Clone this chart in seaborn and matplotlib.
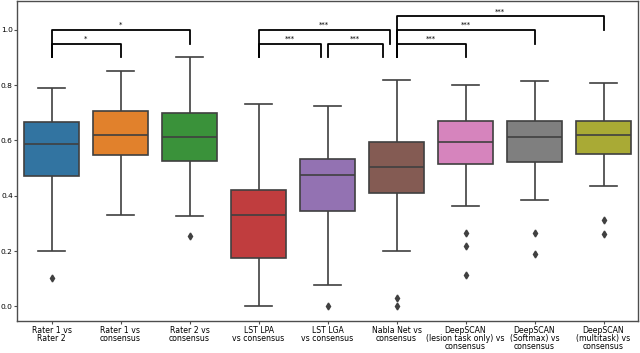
import numpy as np
import pandas as pd
import matplotlib
matplotlib.use('Agg')
import matplotlib.pyplot as plt
import seaborn as sns

# Box summaries (Dice-like overlap scores)
labels = [
    'Rater 1 vs\nRater 2',
    'Rater 1 vs\nconsensus',
    'Rater 2 vs\nconsensus',
    'LST LPA\nvs consensus',
    'LST LGA\nvs consensus',
    'Nabla Net vs\nconsensus',
    'DeepSCAN\n(lesion task only) vs\nconsensus',
    'DeepSCAN\n(Softmax) vs\nconsensus',
    'DeepSCAN\n(multitask) vs\nconsensus',
]
whisk_lo = [0.201, 0.329, 0.325, 0.000, 0.077, 0.199, 0.361, 0.383, 0.434]
q1 = [0.471, 0.547, 0.526, 0.176, 0.343, 0.409, 0.516, 0.521, 0.550]
median = [0.587, 0.619, 0.611, 0.331, 0.476, 0.505, 0.594, 0.612, 0.619]
q3 = [0.665, 0.707, 0.699, 0.419, 0.532, 0.594, 0.671, 0.671, 0.671]
whisk_hi = [0.790, 0.852, 0.901, 0.730, 0.724, 0.820, 0.801, 0.813, 0.809]
outliers = [
    [0.104],
    [],
    [0.256],
    [],
    [0.001],
    [0.030, 0.000],
    [0.266, 0.219, 0.113],
    [0.264, 0.189],
    [0.312, 0.261],
]

# significance brackets: (left, right, bar height, left leg end, right leg end, label)
br_left = [0, 0, 3, 3, 4, 5, 5, 5]
br_right = [1, 2, 3.9, 4.9, 4.8, 6, 7, 8]
br_y = [0.95, 1.0, 0.95, 1.0, 0.95, 0.95, 1.0, 1.05]
br_leg_l = [0.9, 0.9, 0.9, 0.9, 0.9, 0.9, 0.9, 0.9]
br_leg_r = [0.9, 0.95, 0.9, 0.95, 0.9, 0.9, 0.95, 1.0]
br_text = ['*', '*', '***', '***', '***', '***', '***', '***']

# build samples whose quartiles/whiskers reproduce the summaries
rows = []
for k, lab in enumerate(labels):
    vals = list(outliers[k]) + [whisk_lo[k]] + [q1[k]] * 10 + [median[k]] * 10 \
        + [q3[k]] * 10 + [whisk_hi[k]]
    for v in vals:
        rows.append({'comparison': lab, 'score': v})
df = pd.DataFrame(rows)

fig = plt.figure(figsize=(6.4, 3.53), dpi=100)
ax = fig.add_axes([17 / 640, 32 / 353, 621 / 640, 320 / 353])

sns.boxplot(data=df, x='comparison', y='score', hue='comparison', order=labels,
            palette=sns.color_palette(n_colors=9), saturation=0.75, width=0.8,
            linecolor='0.25', linewidth=1.2, legend=False, ax=ax,
            flierprops=dict(marker='d', markersize=3.5, markerfacecolor='0.25',
                            markeredgecolor='0.25'))

for l, r, y, yl, yr, t in zip(br_left, br_right, br_y, br_leg_l, br_leg_r, br_text):
    ax.plot([l, l, r, r], [yl, y, y, yr], color='black', lw=1.3)
    ax.text((l + r) / 2, y + 0.006, t, ha='center', va='bottom', fontsize=5)

ax.set_ylim(-0.053, 1.104)
ax.set_xlim(-0.5, 8.5)
ax.set_yticks([0.0, 0.2, 0.4, 0.6, 0.8, 1.0])
ax.set_yticklabels(['0.0', '0.2', '0.4', '0.6', '0.8', '1.0'])
ax.set_xlabel('')
ax.set_ylabel('')
ax.tick_params(axis='y', labelsize=5.4, length=2, width=0.8, color='0.3', pad=1)
ax.tick_params(axis='x', labelsize=5.6, length=2.5, width=0.8, color='0.3', pad=1)
for lab in ax.get_xticklabels():
    lab.set_linespacing(0.88)
for s in ax.spines.values():
    s.set_color('0.3')
    s.set_linewidth(1.0)

fig.savefig('out.png', dpi=100)
